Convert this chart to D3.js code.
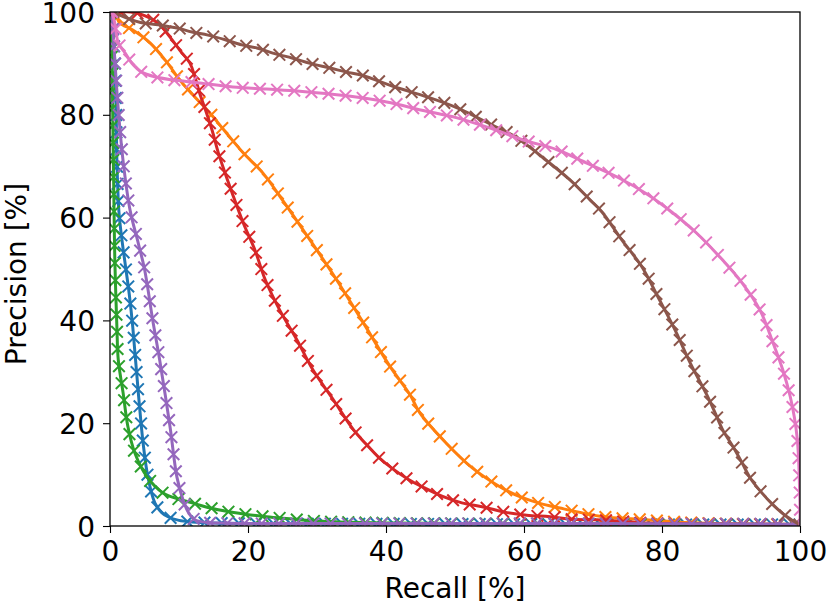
<!DOCTYPE html>
<html>
<head>
<meta charset="utf-8">
<script src="https://cdn.jsdelivr.net/npm/d3@7"></script>
<style>
  body { margin: 0; background: #fff; }
  text { font-family: "DejaVu Sans", sans-serif; fill: #000; }
</style>
</head>
<body>
<div id="chart"></div>
<script>
// Values (recall %, precision %)
const recallBlue = [0.3, 0.5, 0.7, 0.9, 1.0, 1.3, 1.7, 2.2, 2.8, 3.3, 4.1, 4.8, 5.5, 6.5, 7.5, 8.4, 10, 11.9, 15, 20, 30, 45, 60, 80, 100];
const precisionBlue = [100, 95, 90, 80, 71, 61, 56, 51, 45, 38.7, 26, 16.1, 9.5, 4.5, 2.6, 1.8, 1.1, 0.8, 0.6, 0.5, 0.45, 0.4, 0.35, 0.3, 0.3];

const recallOrange = [1.0, 1.45, 3.3, 5.8, 8.2, 10.1, 12, 14.5, 16.9, 19.3, 22.2, 24.9, 28.7, 32.6, 36.5, 40.6, 43.5, 44.9, 48.6, 52.5, 56.8, 59.4, 62.3, 65.2, 68.6, 71.5, 74.3, 77.8, 82, 88, 94, 100];
const precisionOrange = [99, 97.8, 96.5, 94, 90.3, 86.8, 83.9, 80.3, 76.4, 72.6, 68.6, 63.6, 56.2, 48.4, 40, 31, 25.5, 22, 16.3, 11.3, 7.4, 5.7, 4.4, 3.5, 2.5, 1.8, 1.5, 1.2, 0.8, 0.5, 0.35, 0.3];

const recallGreen = [0.2, 0.3, 0.4, 0.5, 0.6, 0.7, 1.0, 1.2, 1.9, 2.6, 3.6, 5.4, 7.7, 10, 11.9, 13.8, 16.7, 19.6, 22.7, 26, 29.4, 32.9, 40, 50, 60, 80, 100];
const precisionGreen = [98, 90, 80, 70, 60, 51.7, 38.7, 32.3, 25.9, 19.3, 14.2, 9.5, 6.4, 5.2, 4.5, 3.75, 2.9, 2.3, 1.8, 1.4, 1.0, 0.8, 0.6, 0.5, 0.45, 0.35, 0.3];

const recallRed = [1.5, 3, 5, 7, 8.7, 10.1, 11.6, 12.3, 13, 14, 14.8, 15.7, 16.7, 17.7, 19.3, 21, 22.5, 24.6, 27.1, 29.4, 32.2, 35.3, 37, 38.9, 40.8, 43.2, 45.6, 48.3, 51, 54.1, 57.2, 60.4, 63.8, 67.1, 70.6, 73.9, 77.5, 85, 92, 100];
const precisionRed = [100, 100, 99.3, 97.8, 95.1, 92.6, 90, 87.4, 84.2, 80.3, 77, 72.6, 68.6, 64.8, 59, 53.7, 47.9, 42, 36.2, 30.4, 24.9, 18.7, 16.1, 13.4, 11.3, 9.1, 7.4, 5.7, 4.5, 3.7, 2.7, 2.1, 1.8, 1.3, 1.2, 0.9, 0.6, 0.45, 0.35, 0.3];

const recallPurple = [0.3, 0.5, 0.7, 1.2, 1.9, 2.9, 4.1, 5, 6.2, 7.2, 8.7, 9.7, 10.6, 11.3, 12.3, 14, 17, 25, 40, 60, 80, 96, 100];
const precisionPurple = [100, 95, 90.7, 81, 71, 61.5, 55, 50, 40, 32.3, 19.3, 9.5, 5, 2.8, 1.2, 0.7, 0.55, 0.5, 0.5, 0.5, 0.45, 0.4, 0.3];

const recallBrown = [0.5, 1.4, 4.3, 7, 9.7, 11.9, 14.2, 16.7, 19.1, 21.3, 23.6, 26.5, 29, 31.9, 34.3, 36.5, 41.3, 45.9, 50.4, 54.8, 59, 62.8, 66.7, 69.6, 71.3, 74.2, 77.1, 79.4, 81.9, 84.1, 86.5, 87.7, 88.8, 90.3, 91.6, 92.8, 94.5, 96.1, 97.8, 99.5, 100];
const precisionBrown = [100, 99.4, 98, 97.5, 96.9, 96.1, 95.5, 94.6, 93.6, 93, 92, 91, 90, 89.1, 88.3, 87.7, 85.4, 83.5, 81.3, 78.4, 75.5, 71.6, 67.3, 63.4, 61.1, 55.6, 50.4, 44.6, 38.1, 31.7, 25.5, 22, 18.7, 15.4, 12.3, 9.3, 6.4, 4.1, 2.1, 0.6, 0.2];

const recallPink = [0.3, 0.7, 1.2, 2.2, 3.2, 4.6, 6.5, 9, 13, 17.8, 22.7, 27.5, 34.3, 40.1, 45.2, 50.3, 55.1, 59.9, 64.8, 69.1, 73.5, 77.8, 81.4, 85, 88.4, 91.6, 94.2, 96.1, 97.5, 98.6, 99.2, 99.6, 99.8, 99.9, 100, 100];
const precisionPink = [100, 97.8, 94, 92, 90, 88.3, 87.4, 86.8, 86.2, 85.4, 85, 84.6, 83.7, 82.5, 80.9, 79.4, 77.4, 75.1, 73.2, 70.6, 67.9, 64.6, 61.1, 57, 52.3, 47.3, 42, 35.6, 30.4, 25.1, 21, 17, 13, 9, 4, 0.3];

const xTicks = [0, 20, 40, 60, 80, 100];
const yTicks = [0, 20, 40, 60, 80, 100];

const series = [
  { recall: recallBlue, precision: precisionBlue, color: "#1f77b4" },
  { recall: recallOrange, precision: precisionOrange, color: "#ff7f0e" },
  { recall: recallGreen, precision: precisionGreen, color: "#2ca02c" },
  { recall: recallRed, precision: precisionRed, color: "#d62728" },
  { recall: recallPurple, precision: precisionPurple, color: "#9467bd" },
  { recall: recallBrown, precision: precisionBrown, color: "#8c564b" },
  { recall: recallPink, precision: precisionPink, color: "#e377c2" },
];

const width = 831, height = 608;
const margin = { top: 12, right: 31, bottom: 82, left: 110 };
const innerW = width - margin.left - margin.right;
const innerH = height - margin.top - margin.bottom;

const svg = d3.select("#chart").append("svg")
  .attr("width", width)
  .attr("height", height);

const chart = svg.append("g")
  .attr("transform", `translate(${margin.left},${margin.top})`);

const xScale = d3.scaleLinear().domain([0, 100]).range([0, innerW]);
const yScale = d3.scaleLinear().domain([0, 100]).range([innerH, 0]);

chart.append("clipPath").attr("id", "plot-clip")
  .append("rect").attr("width", innerW).attr("height", innerH);

const plot = chart.append("g").attr("clip-path", "url(#plot-clip)");

const line = d3.line()
  .x(d => xScale(d[0]))
  .y(d => yScale(d[1]))
  .curve(d3.curveCatmullRom.alpha(0.5));

// markers spaced evenly along the drawn line, like matplotlib's float markevery
const markerStep = 17.2;
const m = 5.8;

series.forEach(s => {
  const pts = s.recall.map((r, i) => [r, s.precision[i]]);
  const path = plot.append("path")
    .datum(pts)
    .attr("fill", "none")
    .attr("stroke", s.color)
    .attr("stroke-width", 3)
    .attr("stroke-linejoin", "round")
    .attr("stroke-linecap", "square")
    .attr("d", line);

  const node = path.node();
  const total = node.getTotalLength();
  const marks = d3.range(0, total + 0.01, markerStep).map(l => node.getPointAtLength(l));

  plot.append("g")
    .selectAll("path")
    .data(marks)
    .join("path")
    .attr("d", p => `M${p.x - m},${p.y - m}L${p.x + m},${p.y + m}M${p.x - m},${p.y + m}L${p.x + m},${p.y - m}`)
    .attr("stroke", s.color)
    .attr("stroke-width", 2)
    .attr("fill", "none");
});

// Axes
const xAxis = d3.axisBottom(xScale).tickValues(xTicks).tickSize(7).tickPadding(8).tickSizeOuter(0);
const yAxis = d3.axisLeft(yScale).tickValues(yTicks).tickSize(7).tickPadding(8).tickSizeOuter(0);

const xg = chart.append("g")
  .attr("transform", `translate(0,${innerH})`)
  .call(xAxis);
const yg = chart.append("g").call(yAxis);

[xg, yg].forEach(g => {
  g.select(".domain").remove();
  g.selectAll("line").attr("stroke", "#000").attr("stroke-width", 1.1);
  g.selectAll("text")
    .style("font-family", "'DejaVu Sans', sans-serif")
    .style("font-size", "28px")
    .attr("fill", "#000");
});
yg.selectAll("text").attr("dy", "0.36em");

// Frame
chart.append("rect")
  .attr("width", innerW)
  .attr("height", innerH)
  .attr("fill", "none")
  .attr("stroke", "#000")
  .attr("stroke-width", 1.3);

// Axis labels
svg.append("text")
  .attr("x", margin.left + innerW / 2)
  .attr("y", 598)
  .attr("text-anchor", "middle")
  .style("font-size", "28px")
  .text("Recall [%]");

svg.append("text")
  .attr("transform", `translate(26,${margin.top + innerH / 2 + 5}) rotate(-90)`)
  .attr("text-anchor", "middle")
  .style("font-size", "28px")
  .text("Precision [%]");
</script>
</body>
</html>
